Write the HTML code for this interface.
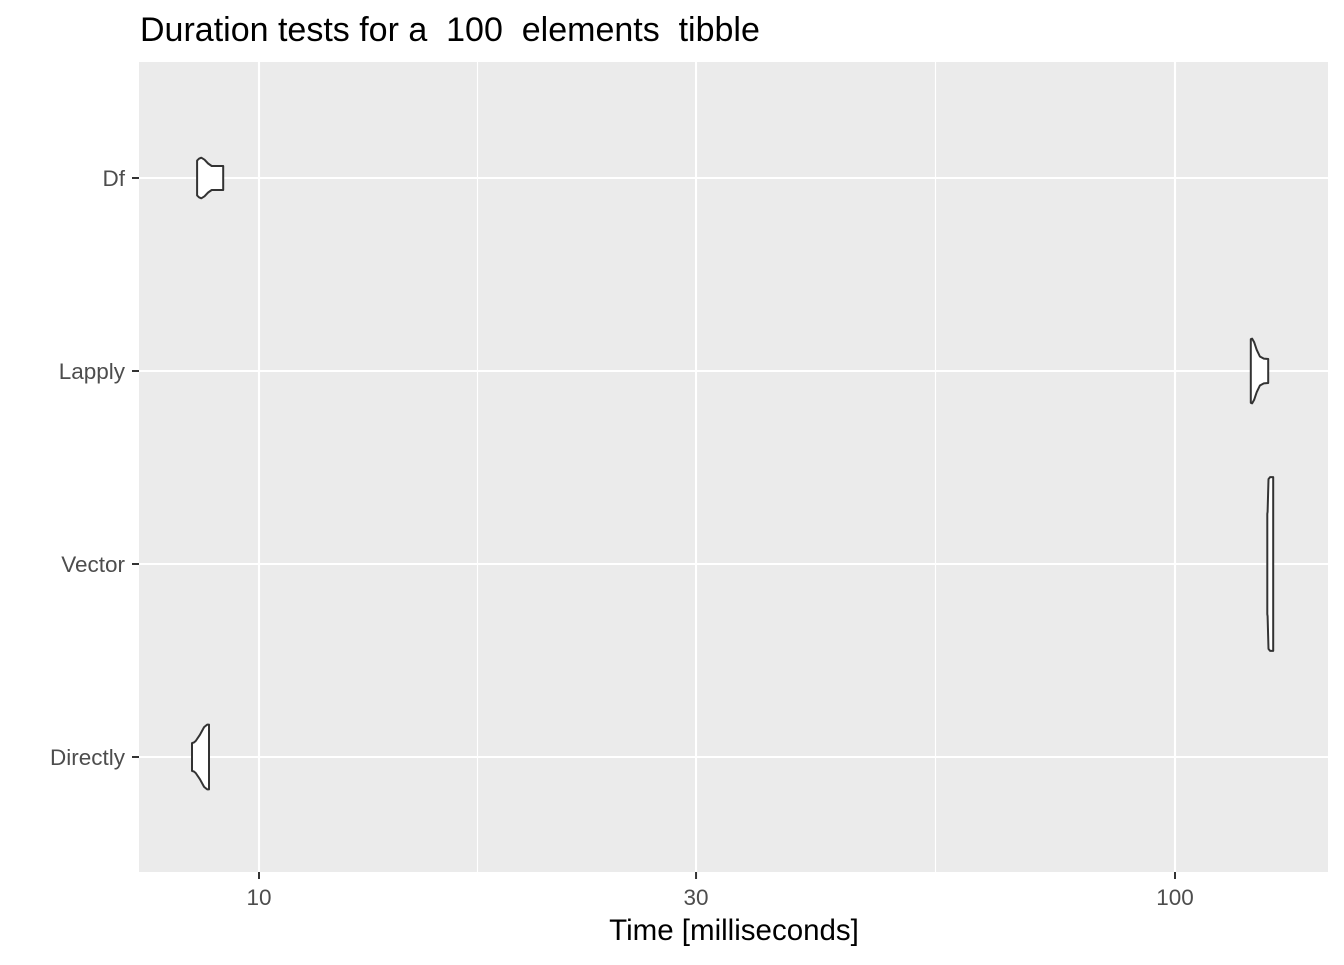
<!DOCTYPE html>
<html><head><meta charset="utf-8"><style>
body{margin:0;background:#fff;font-family:"Liberation Sans",Arial,sans-serif}
text{white-space:pre}
</style></head><body>
<svg width="1344" height="960" xmlns="http://www.w3.org/2000/svg">
<text x="140" y="41" font-size="34" fill="#000" xml:space="preserve">Duration tests for a  100  elements  tibble</text>
<rect x="139" y="62" width="1189" height="810" fill="#ebebeb"/>
<g id="grid"></g><g id="marks"></g><g id="axes"></g>
<text x="734" y="940" font-size="29.5" text-anchor="middle" fill="#000">Time [milliseconds]</text>
</svg>
<script>
const categories=["Df","Lapply","Vector","Directly"];
const xTicks=[10,30,100];
const xMinor=[17.32,54.77];
// violin data: times (ms) and half-widths (fraction of category spacing)
const dfTimes=[8.56,8.60,8.65,8.72,8.80,8.88,9.00,9.14];
const dfWidths=[0.09,0.10,0.105,0.095,0.075,0.062,0.062,0.062];
const lapTimes=[121.0,121.4,122.0,122.8,123.8,125.0,126.4];
const lapWidths=[0.165,0.168,0.15,0.11,0.075,0.064,0.062];
const vecTimes=[126.1,126.2,126.5,127.0,127.6,128.0];
const vecWidths=[0.26,0.27,0.44,0.45,0.45,0.45];
const dirTimes=[8.45,8.49,8.53,8.62,8.71,8.78,8.82];
const dirWidths=[0.072,0.075,0.083,0.115,0.155,0.168,0.168];
const violins=[[dfTimes,dfWidths],[lapTimes,lapWidths],[vecTimes,vecWidths],[dirTimes,dirWidths]];
const ns="http://www.w3.org/2000/svg";
const X=t=>259+916*(Math.log10(t)-1);
const Y=i=>178+193*i;
const S=193;
function mk(tag,attrs,parent){const e=document.createElementNS(ns,tag);for(const k in attrs)e.setAttribute(k,attrs[k]);document.getElementById(parent).appendChild(e);return e;}
xMinor.forEach(t=>{const l=mk('line',{x1:X(t),x2:X(t),y1:62,y2:872,stroke:'#fff','stroke-width':1.1},'grid');

});
xTicks.forEach(t=>{const l=mk('line',{x1:X(t),x2:X(t),y1:62,y2:872,stroke:'#fff','stroke-width':2.1},'grid');


const tk=mk('line',{x1:X(t),x2:X(t),y1:872,y2:879,stroke:'#333','stroke-width':2},'axes');


const tx=mk('text',{x:X(t),y:905,'font-size':22.5,'text-anchor':'middle',fill:'#4d4d4d'},'axes');tx.textContent=t;

});
categories.forEach((c,i)=>{const l=mk('line',{x1:139,x2:1328,y1:Y(i),y2:Y(i),stroke:'#fff','stroke-width':2.1},'grid');


const tk=mk('line',{x1:132,x2:139,y1:Y(i),y2:Y(i),stroke:'#333','stroke-width':2},'axes');


const tx=mk('text',{x:125,y:Y(i)+8,'font-size':22.5,'text-anchor':'end',fill:'#4d4d4d'},'axes');tx.textContent=c;


const [ts,ws]=violins[i];
let top=ts.map((t,j)=>X(t).toFixed(1)+','+(Y(i)-ws[j]*S).toFixed(1));
let bot=ts.map((t,j)=>X(t).toFixed(1)+','+(Y(i)+ws[j]*S).toFixed(1)).reverse();
const p=mk('polygon',{points:top.concat(bot).join(' '),fill:'#fff',stroke:'#333','stroke-width':2,'stroke-linejoin':'round'},'marks');

});
</script>
</body></html>
